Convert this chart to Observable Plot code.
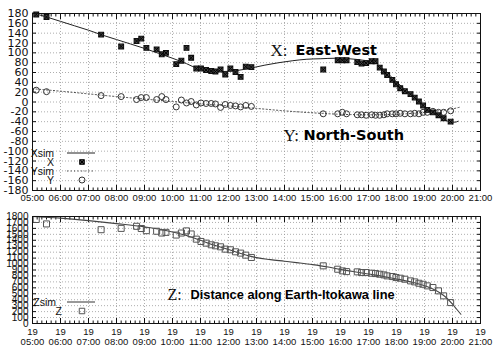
<!DOCTYPE html>
<html><head><meta charset="utf-8">
<script src="https://cdn.jsdelivr.net/npm/d3@7"></script>
<script src="https://cdn.jsdelivr.net/npm/@observablehq/plot@0.6"></script>
<style>
body{margin:0;background:#fff;}
#chart{width:500px;height:356px;}
#chart svg{display:block;}
</style></head><body><div id="chart"></div>
<script>
// ---- data ----
const hourLabels = ["05:00","06:00","07:00","08:00","09:00","10:00","11:00","12:00","13:00","14:00","15:00","16:00","17:00","18:00","19:00","20:00","21:00"];
const dayLabel = "19";
const topYTicks = [-180,-160,-140,-120,-100,-80,-60,-40,-20,0,20,40,60,80,100,120,140,160,180];
const botYTicks = [0,100,200,300,400,500,600,700,800,900,1000,1100,1200,1300,1400,1500,1600,1700,1800];

const obsTimes = ["05:08","05:30","07:27","08:10","08:43","08:53","09:04","09:26","09:37","09:46","10:08","10:19","10:30","10:40","10:51","11:01","11:12","11:23","11:32","11:43","11:53","12:04","12:15","12:26","12:37","12:49",
  "15:23","15:54","16:04","16:13","16:36","16:45","16:55","17:07","17:15","17:24","17:33","17:40","17:51","17:59","18:08","18:18","18:30","18:39","18:48","18:57","19:06","19:18","19:30","19:41","19:56"];
const xObs = [178,173,137,113,124,129,110,107,97,100,77,84,110,90,68,68,65,63,62,66,56,68,61,51,72,71,
  66,85,85,85,81,78,79,83,83,70,62,55,45,36,28,22,16,9,1,-7,-16,-21,-27,-33,-40];
const yObs = [24,21,13,11,5,9,9,5,11,5,-10,4,-2,1,-6,-2,-3,-3,-4,-11,-5,-7,-8,-10,-7,-9,
  -24,-24,-21,-24,-26,-26,-27,-26,-27,-27,-26,-24,-24,-24,-23,-24,-24,-23,-24,-21,-21,-19,-21,-21,-18];
const zObs = [1750,1675,1578,1600,1635,1598,1562,1552,1522,1533,1488,1522,1558,1506,1419,1380,1352,1324,1307,1290,1251,1240,1206,1184,1150,1111,
  970,913,885,873,869,857,857,846,840,829,818,801,790,773,762,745,717,700,677,660,633,605,549,465,352];

const xSimTimes = ["05:00","05:30","06:00","06:30","07:00","07:30","08:00","08:30","09:00","09:30","10:00","10:30","10:54","11:18","11:48","12:18","12:48","13:18","13:48","14:18","14:48","15:18","15:48","16:18","16:48","17:12","17:30","18:00","18:30","19:00","19:18","19:36","19:54","20:06","20:12"];
const xSimValues = [181,173,164,155,146,136,127,118,109,99,89,78,68,64,62,64,69,75,80,84,87,88,89,88,85,81,68,41,15,-10,-22,-33,-40,-41,-39];

const ySimTimes = ["05:00","06:00","07:00","08:00","09:00","10:00","11:00","12:00","13:00","14:00","15:00","16:00","17:00","18:00","19:00","19:30","20:00","20:18"];
const ySimValues = [27,22,16.5,11,6,1,-4,-8,-13,-18,-22,-25,-26,-25,-21,-18,-14,-10];

const zSimTimes = ["05:00","06:00","07:00","08:00","09:00","09:30","10:00","10:30","11:00","11:30","12:00","12:30","13:00","13:30","14:00","14:30","15:00","15:30","16:00","16:30","17:00","17:30","18:00","18:30","19:00","19:18","19:36","19:48","20:00","20:09","20:18"];
const zSimValues = [1800,1772,1730,1680,1625,1590,1540,1480,1400,1315,1245,1170,1108,1075,1048,1020,990,955,910,870,832,795,750,700,635,580,500,425,325,240,155];

// ---- helpers ----
const hour = s => { const [h, m] = s.split(":").map(Number); return h + m / 60; };
const obs = obsTimes.map((t, i) => ({t: hour(t), x: xObs[i], y: yObs[i], z: zObs[i]}));
const xSim = xSimTimes.map((t, i) => ({t: hour(t), v: xSimValues[i]}));
const ySim = ySimTimes.map((t, i) => ({t: hour(t), v: ySimValues[i]}));
const zSim = zSimTimes.map((t, i) => ({t: hour(t), v: zSimValues[i]}));
const hourTicks = hourLabels.map(hour);
const labelOf = new Map(hourTicks.map((h, i) => [h, hourLabels[i]]));
const minorTicks = d3.range(30, 127).map(k => k / 6);

const SANS = "'Liberation Sans', Arial, sans-serif";
const WIDE = "'DejaVu Sans', sans-serif";
const SERIF = "'Liberation Serif', 'DejaVu Serif', serif";
const gridStyle = {stroke: "#999", strokeOpacity: 1, strokeDasharray: "1,2", strokeWidth: 0.8};

function frameTicks(yTicks) {
  return [
    Plot.axisX(hourTicks, {anchor: "bottom", tickSize: 5, dy: -5, tickFormat: () => "", label: null}),
    Plot.axisX(hourTicks, {anchor: "top", tickSize: 5, dy: 5, tickFormat: () => "", label: null}),
    Plot.axisX(minorTicks, {anchor: "bottom", tickSize: 2.5, dy: -2.5, tickFormat: () => "", label: null}),
    Plot.axisX(minorTicks, {anchor: "top", tickSize: 2.5, dy: 2.5, tickFormat: () => "", label: null}),
    Plot.axisY(yTicks, {anchor: "left", tickSize: 4, dx: 4, tickFormat: () => "", label: null}),
    Plot.axisY(yTicks, {anchor: "right", tickSize: 4, dx: -4, tickFormat: () => "", label: null})
  ];
}

// ---- top panel ----
const topChart = Plot.plot({
  width: 500, height: 206,
  marginLeft: 32, marginRight: 20, marginTop: 13, marginBottom: 16,
  style: {fontFamily: SANS, background: "white", color: "#111", overflow: "visible"},
  x: {domain: [5, 21]},
  y: {domain: [-180, 180]},
  marks: [
    Plot.gridX(hourTicks, gridStyle),
    Plot.gridY(topYTicks, gridStyle),
    ...frameTicks(topYTicks),
    Plot.axisY(topYTicks, {anchor: "left", tickSize: 0, tickPadding: 4, fontSize: 11, fontFamily: WIDE, tickFormat: d => String(d), label: null}),
    Plot.axisX(hourTicks, {anchor: "bottom", tickSize: 0, tickPadding: 4, fontSize: 9.5, tickFormat: d => labelOf.get(d), label: null}),
    Plot.line(ySim, {x: "t", y: "v", stroke: "#444", strokeWidth: 1, strokeDasharray: "1.2,2.3", curve: "monotone-x"}),
    Plot.line(xSim, {x: "t", y: "v", stroke: "#222", strokeWidth: 1, curve: "monotone-x"}),
    Plot.dot(obs, {x: "t", y: "y", symbol: "circle", r: 3, stroke: "#333", strokeWidth: 1, fill: "none"}),
    Plot.dot(obs, {x: "t", y: "x", symbol: "square", r: 2.7, stroke: "#111", strokeWidth: 1.1, fill: "#444"}),
    Plot.dot(obs, {x: "t", y: "x", symbol: "times", r: 2.1, stroke: "#000", strokeWidth: 1}),
    Plot.frame({stroke: "#111", strokeWidth: 1}),
    Plot.text(["X:"], {frameAnchor: "top-left", dx: 238, dy: 37, textAnchor: "start", lineAnchor: "middle", fontFamily: SERIF, fontSize: 17, fill: "#111"}),
    Plot.text(["East-West"], {frameAnchor: "top-left", dx: 263, dy: 37, textAnchor: "start", lineAnchor: "middle", fontFamily: WIDE, fontWeight: "bold", fontSize: 14.5, fill: "#000"}),
    Plot.text(["Y:"], {frameAnchor: "top-left", dx: 251, dy: 122, textAnchor: "start", lineAnchor: "middle", fontFamily: SERIF, fontSize: 17, fill: "#111"}),
    Plot.text(["North-South"], {frameAnchor: "top-left", dx: 271, dy: 122, textAnchor: "start", lineAnchor: "middle", fontFamily: WIDE, fontWeight: "bold", fontSize: 14.5, fill: "#000"})
  ]
});

// ---- bottom panel ----
const bottomChart = Plot.plot({
  width: 500, height: 150,
  marginLeft: 32, marginRight: 20, marginTop: 10, marginBottom: 33,
  style: {fontFamily: SANS, background: "white", color: "#111", overflow: "visible"},
  x: {domain: [5, 21]},
  y: {domain: [0, 1800]},
  marks: [
    Plot.gridX(hourTicks, gridStyle),
    Plot.gridY(botYTicks, gridStyle),
    ...frameTicks(botYTicks),
    Plot.axisY(botYTicks, {anchor: "left", tickSize: 0, tickPadding: 4, fontSize: 10, fontFamily: SANS, tickFormat: d => String(d), label: null}),
    Plot.axisX(hourTicks, {anchor: "bottom", tickSize: 0, tickPadding: 5, fontSize: 9.5, tickFormat: () => dayLabel, label: null}),
    Plot.axisX(hourTicks, {anchor: "bottom", tickSize: 0, tickPadding: 15, fontSize: 9.5, tickFormat: d => labelOf.get(d), label: null}),
    Plot.line(zSim, {x: "t", y: "v", stroke: "#444", strokeWidth: 1.1, curve: "monotone-x"}),
    Plot.dot(obs, {x: "t", y: "z", symbol: "square", r: 3.4, stroke: "#555", strokeWidth: 1, fill: "none"}),
    Plot.frame({stroke: "#111", strokeWidth: 1}),
    Plot.text(["Z:"], {frameAnchor: "top-left", dx: 135, dy: 78, textAnchor: "start", lineAnchor: "middle", fontFamily: SERIF, fontSize: 16, fill: "#111"}),
    Plot.text(["Distance along Earth-Itokawa line"], {frameAnchor: "top-left", dx: 158, dy: 78, textAnchor: "start", lineAnchor: "middle", fontFamily: SANS, fontWeight: "bold", fontSize: 12.8, fill: "#000"})
  ]
});

// ---- legends (drawn into each svg) ----
function legend(svg, items) {
  const g = d3.select(svg).append("g").attr("font-family", SANS).attr("font-size", 10.5).attr("fill", "#111");
  for (const it of items) {
    g.append("text").attr("x", it.tx).attr("y", it.y).attr("text-anchor", "end").attr("dy", "0.35em").text(it.label);
    if (it.kind === "line") {
      g.append("line").attr("x1", 67).attr("x2", 95).attr("y1", it.y).attr("y2", it.y)
        .attr("stroke", it.stroke).attr("stroke-width", it.width || 1).attr("stroke-dasharray", it.dash || null);
    } else {
      const sym = d3.symbol(it.symbol, it.size)();
      g.append("path").attr("d", sym).attr("transform", `translate(82,${it.y})`)
        .attr("fill", it.fill || "none").attr("stroke", it.stroke).attr("stroke-width", 1);
      if (it.extra) g.append("path").attr("d", d3.symbol(d3.symbolTimes, 14)()).attr("transform", `translate(82,${it.y})`).attr("stroke", "#000").attr("fill", "none");
    }
  }
}
legend(topChart, [
  {label: "Xsim", tx: 54, y: 153, kind: "line", stroke: "#222"},
  {label: "X", tx: 54, y: 162, kind: "dot", symbol: d3.symbolSquare, size: 22, stroke: "#111", fill: "#444", extra: true},
  {label: "Ysim", tx: 54, y: 171, kind: "line", stroke: "#444", dash: "1.2,2.3"},
  {label: "Y", tx: 54, y: 180, kind: "dot", symbol: d3.symbolCircle, size: 28, stroke: "#333"}
]);
legend(bottomChart, [
  {label: "Zsim", tx: 56, y: 96, kind: "line", stroke: "#999", width: 2},
  {label: "Z", tx: 62, y: 105, kind: "dot", symbol: d3.symbolSquare, size: 30, stroke: "#555"}
]);

document.getElementById("chart").append(topChart, bottomChart);
</script>
</body></html>
